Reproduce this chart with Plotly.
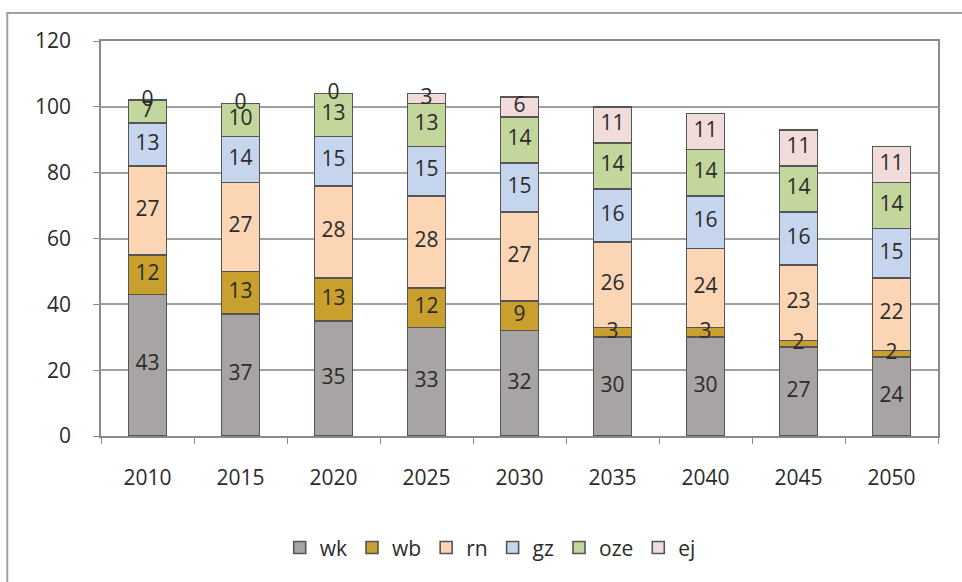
import numpy as np
import plotly.graph_objects as go

years = ["2010", "2015", "2020", "2025", "2030", "2035", "2040", "2045", "2050"]

wk = [43, 37, 35, 33, 32, 30, 30, 27, 24]
wb = [12, 13, 13, 12, 9, 3, 3, 2, 2]
rn = [27, 27, 28, 28, 27, 26, 24, 23, 22]
gz = [13, 14, 15, 15, 15, 16, 16, 16, 15]
oze = [7, 10, 13, 13, 14, 14, 14, 14, 14]
ej = [0, 0, 0, 3, 6, 11, 11, 11, 11]

series = [
    ("wk", wk, "#a8a4a4"),
    ("wb", wb, "#c9a02e"),
    ("rn", rn, "#fcd5b5"),
    ("gz", gz, "#c6d5ee"),
    ("oze", oze, "#c3d69b"),
    ("ej", ej, "#f2dcdb"),
]

FONT = "Open Sans"
TXT = "#2b2b2b"

fig = go.Figure()

base = np.zeros(len(years))
label_traces = []
for name, vals, color in series:
    v = np.array(vals, dtype=float)
    fig.add_trace(go.Bar(
        name=name, x=years, y=vals,
        marker=dict(color=color, line=dict(color="#555555", width=1.6)),
        hoverinfo="name+y",
    ))
    # value labels centred on each segment
    label_traces.append(go.Scatter(
        x=years, y=base + v / 2, mode="text",
        text=[str(int(t)) for t in vals],
        textfont=dict(family=FONT, size=21, color=TXT),
        showlegend=False, hoverinfo="skip", cliponaxis=False,
    ))
    base = base + v

for tr in label_traces:
    fig.add_trace(tr)

fig.update_layout(
    barmode="stack",
    bargap=0.59,
    width=962, height=582,
    margin=dict(l=101, r=24, t=41, b=146),
    paper_bgcolor="white",
    plot_bgcolor="white",
    font=dict(family=FONT, size=21, color=TXT),
    legend=dict(
        orientation="h",
        x=0.465, y=-0.283, xanchor="center", yanchor="middle",
        font=dict(family=FONT, size=21, color=TXT),
        itemwidth=30, traceorder="normal",
    ),
    xaxis=dict(
        type="category",
        showline=True, linecolor="#8a8a8a", linewidth=1.5, mirror=True,
        ticks="outside", tickson="boundaries", ticklen=6, tickcolor="#8a8a8a",
        ticklabelstandoff=22,
        showgrid=False,
        tickfont=dict(family=FONT, size=21, color=TXT),
    ),
    yaxis=dict(
        range=[0, 120], dtick=20,
        showline=True, linecolor="#8a8a8a", linewidth=1.5, mirror=True,
        ticks="outside", ticklen=6, tickcolor="#8a8a8a",
        ticklabelstandoff=18,
        showgrid=True, gridcolor="#a0a0a0", gridwidth=1.5,
        zeroline=False,
        tickfont=dict(family=FONT, size=21, color=TXT),
    ),
    shapes=[dict(
        type="rect", xref="paper", yref="paper",
        x0=-0.112, x1=1.06, y0=-0.4, y1=1.071,
        line=dict(color="#a0a0a0", width=2), layer="below",
    )],
)

fig.write_html("out.html")
